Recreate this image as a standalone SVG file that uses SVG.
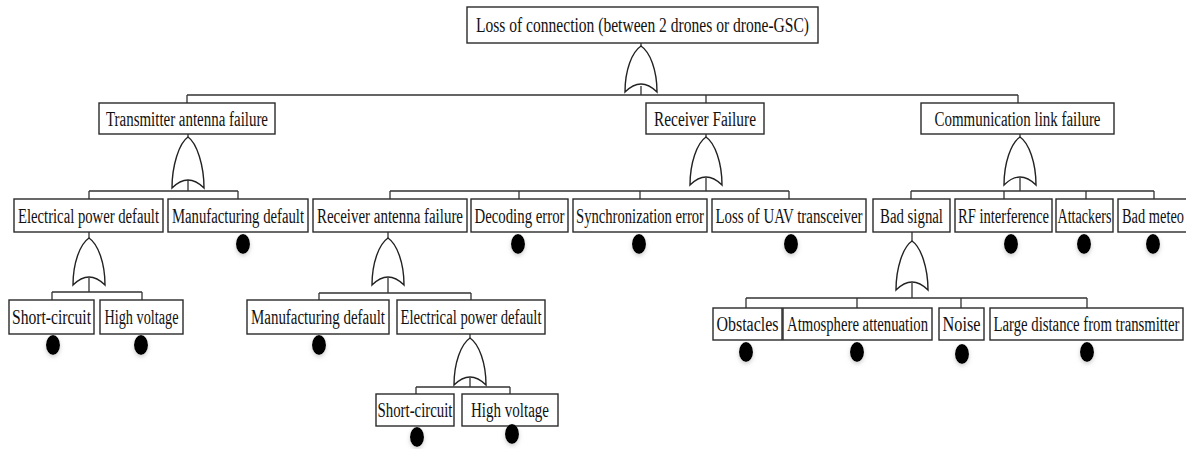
<svg xmlns="http://www.w3.org/2000/svg" width="1186" height="449" viewBox="0 0 1186 449">
<style>
.box{fill:#fff;stroke:#2a2a2a;stroke-width:1.4}
.lbl{font-family:"Liberation Serif","Times New Roman",serif;font-size:20px;fill:#111;text-anchor:middle}
.ln{fill:none;stroke:#333;stroke-width:1.3}
.gate{fill:#fff;stroke:#222;stroke-width:1.4}
.ev{fill:#000;filter:url(#sh)}
</style>
<defs>
<filter id="sh" x="-80%" y="-60%" width="260%" height="240%">
<feDropShadow dx="0" dy="2" stdDeviation="2" flood-color="#999" flood-opacity="0.5"/>
</filter>
</defs>
<rect width="1186" height="449" fill="#fff"/>

<g id="connectors">
<path class="ln" d="M641 43V46 M641 95V86 M187 95H1018 M187 95V103 M706 95V103 M1018 95V103"/>
<path class="gate" d="M641 46C650 52 657 70 657 92Q641 76 625 92C625 70 632 52 641 46Z"/>
<path class="ln" d="M188 134V137 M188 191V180 M89 191H238 M89 191V199 M238 191V199"/>
<path class="gate" d="M188 137C197 143 204 166 204 188Q188 172 172 188C172 166 179 143 188 137Z"/>
<path class="ln" d="M706 134V137 M706 191V178 M390 191H789 M390 191V199 M519 191V199 M640 191V199 M789 191V199"/>
<path class="gate" d="M706 137C715 143 722 163 722 185Q706 169 690 185C690 163 697 143 706 137Z"/>
<path class="ln" d="M1020 134V137 M1020 191V178 M911 191H1154 M911 191V199 M1004 191V199 M1086 191V199 M1154 191V199"/>
<path class="gate" d="M1020 137C1029 143 1036 163 1036 185Q1020 169 1004 185C1004 163 1011 143 1020 137Z"/>
<path class="ln" d="M89 232V238 M89 292V278 M52 292H142 M52 292V300 M142 292V300"/>
<path class="gate" d="M89 238C98 244 105 263 105 285Q89 269 73 285C73 263 80 244 89 238Z"/>
<path class="ln" d="M388 232V238 M388 293V278 M319 293H471 M319 293V300 M471 293V300"/>
<path class="gate" d="M388 238C397 244 404 263 404 285Q388 269 372 285C372 263 379 244 388 238Z"/>
<path class="ln" d="M470 334V338 M470 387V378 M416 387H510 M416 387V394 M510 387V394"/>
<path class="gate" d="M470 338C479 344 486 363 486 385Q470 369 454 385C454 363 461 344 470 338Z"/>
<path class="ln" d="M912 232V241 M912 298V283 M746 298H1087 M746 298V308 M857 298V308 M961 298V308 M1087 298V308"/>
<path class="gate" d="M912 241C921 247 928 268 928 290Q912 274 896 290C896 268 903 247 912 241Z"/>
</g>

<g id="n-top"><rect class="box" x="467" y="7" width="351" height="36"/><text class="lbl" x="642.5" y="32" textLength="333" lengthAdjust="spacingAndGlyphs">Loss of connection (between 2 drones or drone-GSC)</text></g>

<g id="n-transmitter"><rect class="box" x="99" y="103" width="176" height="31"/><text class="lbl" x="187" y="126" textLength="162" lengthAdjust="spacingAndGlyphs">Transmitter antenna failure</text></g>
<g id="n-receiver"><rect class="box" x="646" y="103" width="118" height="31"/><text class="lbl" x="705" y="126" textLength="102" lengthAdjust="spacingAndGlyphs">Receiver Failure</text></g>
<g id="n-commlink"><rect class="box" x="921" y="103" width="193" height="31"/><text class="lbl" x="1017.5" y="126" textLength="166" lengthAdjust="spacingAndGlyphs">Communication link failure</text></g>

<g id="n-epd1"><rect class="box" x="14" y="199" width="149" height="33"/><text class="lbl" x="88.5" y="223" textLength="141" lengthAdjust="spacingAndGlyphs">Electrical power default</text></g>
<g id="n-md1"><rect class="box" x="168" y="199" width="140" height="33"/><text class="lbl" x="238" y="223" textLength="132" lengthAdjust="spacingAndGlyphs">Manufacturing default</text><ellipse class="ev" cx="243" cy="244" rx="7" ry="10"/></g>
<g id="n-raf"><rect class="box" x="313" y="199" width="154" height="33"/><text class="lbl" x="390" y="223" textLength="146" lengthAdjust="spacingAndGlyphs">Receiver antenna failure</text></g>
<g id="n-decoding"><rect class="box" x="471" y="199" width="97" height="33"/><text class="lbl" x="519.5" y="223" textLength="90" lengthAdjust="spacingAndGlyphs">Decoding error</text><ellipse class="ev" cx="518" cy="244" rx="7" ry="10"/></g>
<g id="n-sync"><rect class="box" x="573" y="199" width="134" height="33"/><text class="lbl" x="640" y="223" textLength="128" lengthAdjust="spacingAndGlyphs">Synchronization error</text><ellipse class="ev" cx="639" cy="244" rx="7" ry="10"/></g>
<g id="n-uav"><rect class="box" x="712" y="199" width="154" height="33"/><text class="lbl" x="789" y="223" textLength="147" lengthAdjust="spacingAndGlyphs">Loss of UAV transceiver</text><ellipse class="ev" cx="791" cy="244" rx="7" ry="10"/></g>
<g id="n-badsignal"><rect class="box" x="873" y="199" width="77" height="33"/><text class="lbl" x="911.5" y="223" textLength="63" lengthAdjust="spacingAndGlyphs">Bad signal</text></g>
<g id="n-rf"><rect class="box" x="955" y="199" width="97" height="33"/><text class="lbl" x="1003.5" y="223" textLength="91" lengthAdjust="spacingAndGlyphs">RF interference</text><ellipse class="ev" cx="1011" cy="244" rx="7" ry="10"/></g>
<g id="n-attackers"><rect class="box" x="1056" y="199" width="57" height="33"/><text class="lbl" x="1084.5" y="223" textLength="54" lengthAdjust="spacingAndGlyphs">Attackers</text><ellipse class="ev" cx="1084" cy="244" rx="7" ry="10"/></g>
<g id="n-meteo"><rect class="box" x="1118" y="199" width="80" height="33"/><text class="lbl" x="1122" y="223" textLength="62" lengthAdjust="spacingAndGlyphs" style="text-anchor:start">Bad meteo</text><ellipse class="ev" cx="1153" cy="244" rx="7" ry="10"/></g>

<g id="n-sc1"><rect class="box" x="9" y="300" width="85" height="34"/><text class="lbl" x="51.5" y="324" textLength="79" lengthAdjust="spacingAndGlyphs">Short-circuit</text><ellipse class="ev" cx="53" cy="345" rx="7" ry="10"/></g>
<g id="n-hv1"><rect class="box" x="100" y="300" width="83" height="34"/><text class="lbl" x="141.5" y="324" textLength="74" lengthAdjust="spacingAndGlyphs">High voltage</text><ellipse class="ev" cx="141" cy="345" rx="7" ry="10"/></g>
<g id="n-md2"><rect class="box" x="247" y="300" width="142" height="34"/><text class="lbl" x="318" y="324" textLength="134" lengthAdjust="spacingAndGlyphs">Manufacturing default</text><ellipse class="ev" cx="319" cy="345" rx="7" ry="10"/></g>
<g id="n-epd2"><rect class="box" x="397" y="300" width="148" height="34"/><text class="lbl" x="471" y="324" textLength="141" lengthAdjust="spacingAndGlyphs">Electrical power default</text></g>

<g id="n-obstacles"><rect class="box" x="713" y="308" width="69" height="32"/><text class="lbl" x="747.5" y="331" textLength="62" lengthAdjust="spacingAndGlyphs">Obstacles</text><ellipse class="ev" cx="746" cy="352" rx="7" ry="10"/></g>
<g id="n-atmo"><rect class="box" x="783" y="308" width="149" height="32"/><text class="lbl" x="857.5" y="331" textLength="141" lengthAdjust="spacingAndGlyphs">Atmosphere attenuation</text><ellipse class="ev" cx="857" cy="352" rx="7" ry="10"/></g>
<g id="n-noise"><rect class="box" x="939" y="308" width="45" height="32"/><text class="lbl" x="961.5" y="331" textLength="38" lengthAdjust="spacingAndGlyphs">Noise</text><ellipse class="ev" cx="962" cy="354" rx="7" ry="10"/></g>
<g id="n-distance"><rect class="box" x="990" y="308" width="193" height="32"/><text class="lbl" x="1086.5" y="331" textLength="186" lengthAdjust="spacingAndGlyphs">Large distance from transmitter</text><ellipse class="ev" cx="1087" cy="352" rx="7" ry="10"/></g>

<g id="n-sc2"><rect class="box" x="376" y="394" width="78" height="32"/><text class="lbl" x="415" y="417" textLength="75" lengthAdjust="spacingAndGlyphs">Short-circuit</text><ellipse class="ev" cx="417" cy="437" rx="7" ry="10"/></g>
<g id="n-hv2"><rect class="box" x="462" y="394" width="96" height="32"/><text class="lbl" x="510" y="417" textLength="78" lengthAdjust="spacingAndGlyphs">High voltage</text><ellipse class="ev" cx="512" cy="434" rx="7" ry="10"/></g>
</svg>
